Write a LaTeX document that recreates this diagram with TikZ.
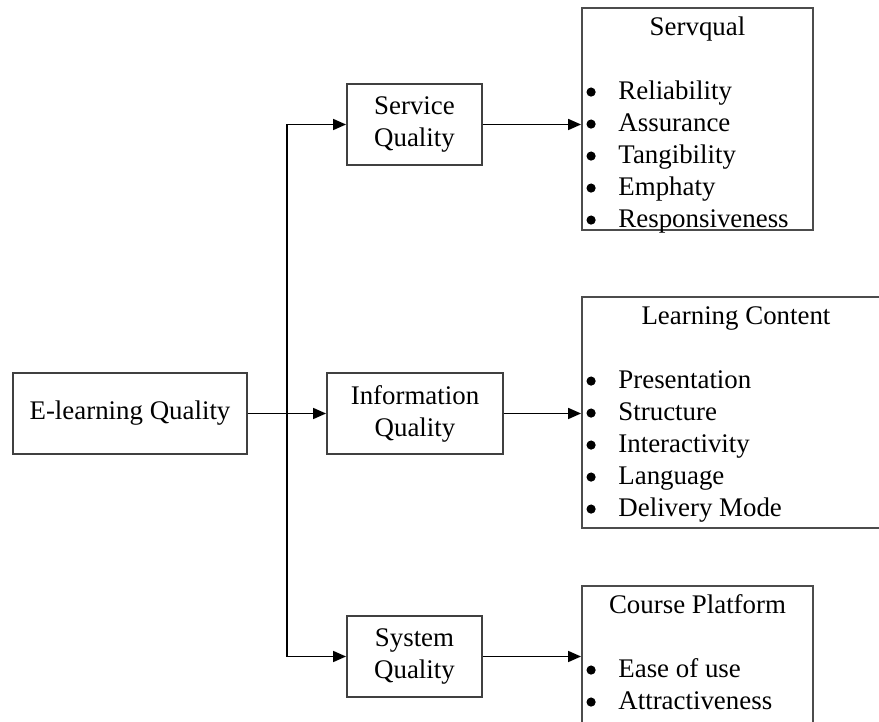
\documentclass[tikz,border=0pt]{standalone}
\usepackage{fontspec}
\setmainfont{Liberation Serif}
\usetikzlibrary{arrows.meta, positioning, calc}

\begin{document}
\begin{tikzpicture}[x=0.02cm, y=-0.02cm, >={Triangle[length=0.26cm, width=0.22cm]},
    font=\fontsize{15.3}{18.2}\selectfont,
    box/.style={draw=black!75, line width=0.038cm, align=center, minimum height=1.62cm, inner sep=0pt},
    listbox/.style={draw=black!70, line width=0.038cm, minimum width=4.62cm, inner sep=0pt},
    link/.style={->, line width=0.034cm}]
    \useasboundingbox (0,0) rectangle (879,722);
    \clip (0,0) rectangle (879,722);
    \fill[white] (0,0) rectangle (879,722);

    % left column
    \node[box, minimum width=4.68cm] (quality) at (130,413.5) {E-learning Quality};
    \node[box, minimum width=2.7cm] (service) at (414.5,124.5) {Service\\Quality};
    \node[box, minimum width=3.52cm] (info) at (415,413.5) {Information\\Quality};
    \node[box, minimum width=2.7cm] (system) at (414.5,656.5) {System\\Quality};

    % right column
    \node[listbox, minimum height=4.44cm] (servqual) at (697.5,119) {};
    \node[listbox, minimum height=4.62cm, minimum width=6.16cm] (content) at (736,412.5) {};
    \node[listbox, minimum height=2.8cm] (platform) at (697.5,656) {};

    \foreach \Box/\Title/\Items in {
      servqual/Servqual/{Reliability, Assurance, Tangibility, Emphaty, Responsiveness},
      content/Learning Content/{Presentation, Structure, Interactivity, Language, Delivery Mode},
      platform/Course Platform/{Ease of use, Attractiveness}} {
      \node[anchor=base, inner sep=0pt] (\Box-title) at ($(\Box.north)+(0,28)$) {\Title};
      \foreach \Item [count=\i] in \Items {
        \node[anchor=base west, inner sep=0pt] (\Box-\i) at ($(\Box.north west)+(37,60+32*\i)$) {\Item};
        \fill ($(\Box.north west)+(10,53+32*\i)$) circle (4.6);
      }
    }

    % connectors
    \coordinate (fork) at (287,413.5);
    \draw[link] (quality.east) -- (info.west);
    \draw[link] (fork) |- (service.west);
    \draw[link] (fork) |- (system.west);
    \draw[link] (service.east) -- (service.east -| servqual.west);
    \draw[link] (info.east) -- (info.east -| content.west);
    \draw[link] (system.east) -- (system.east -| platform.west);
\end{tikzpicture}
\end{document}
